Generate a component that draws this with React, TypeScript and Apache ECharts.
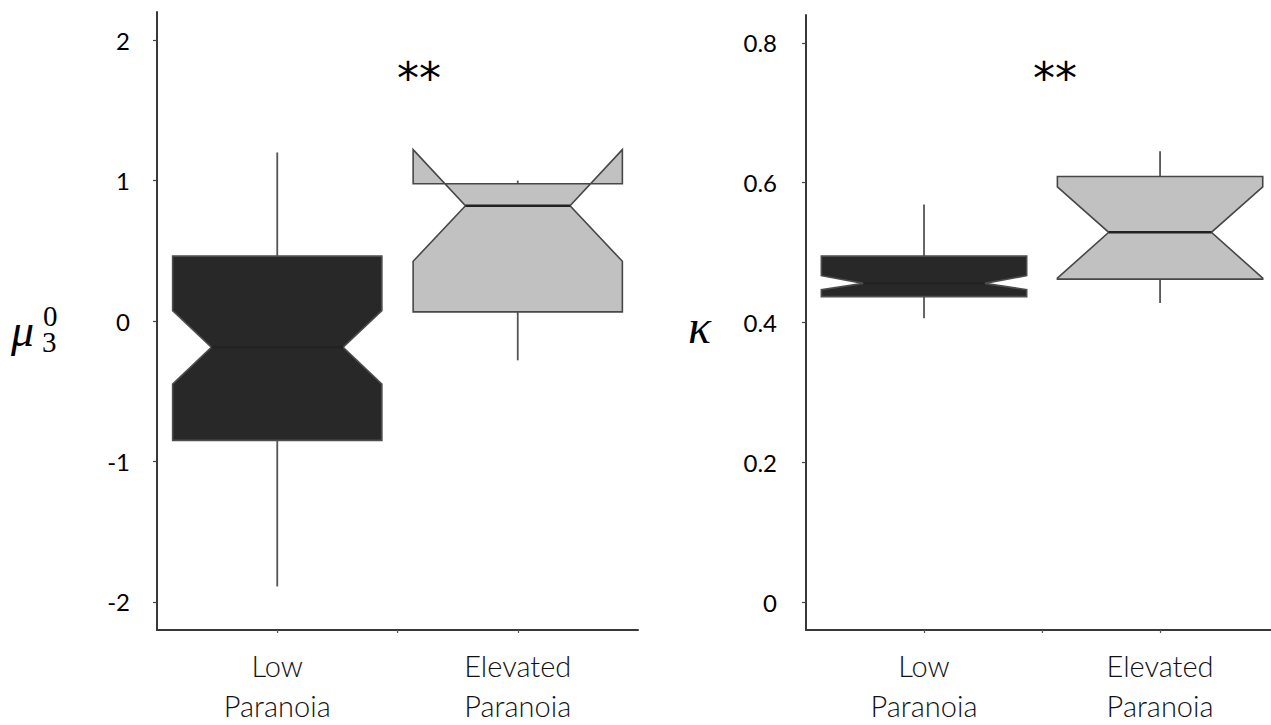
import React, { useEffect, useRef } from "react";
import * as echarts from "echarts";

// ---- data ----
const categories = ["Low\nParanoia", "Elevated\nParanoia"];
const groupPos = [1, 2];

// left panel: mu_3^0
const muMin = [-1.89, -0.28];
const muQ1 = [-0.85, 0.065];
const muNotchLow = [-0.45, 0.425];
const muMedian = [-0.187, 0.82];
const muNotchHigh = [0.074, 1.22];
const muQ3 = [0.462, 0.977];
const muMax = [1.2, 1.0];
const muTicks = [-2, -1, 0, 1, 2];

// right panel: kappa
const kappaMin = [0.406, 0.428];
const kappaQ1 = [0.437, 0.462];
const kappaNotchLow = [0.447, 0.4635];
const kappaMedian = [0.456, 0.529];
const kappaNotchHigh = [0.467, 0.594];
const kappaQ3 = [0.495, 0.609];
const kappaMax = [0.569, 0.645];
const kappaTicks = [0, 0.2, 0.4, 0.6, 0.8];

const significance = "**";

// ---- styles ----
const BOX_WIDTH = 0.87;
const boxFills = ["#282828", "#c1c1c1"];
const boxEdges = ["#4d4d4d", "#474747"];
const muNotchFrac = [0.63, 0.5];
const kappaNotchFrac = [0.59, 0.5];

function rows(mn: number[], q1: number[], nlo: number[], med: number[], nhi: number[], q3: number[], mx: number[]) {
  return groupPos.map((p, i) => [p, mn[i], q1[i], nlo[i], med[i], nhi[i], q3[i], mx[i]]);
}

function makeRender(notchFrac: number[]) {
  return (params: any, api: any) => {
    const idx = params.dataIndex;
    const x = api.value(0);
    const mn = api.value(1), q1 = api.value(2), nlo = api.value(3), med = api.value(4),
      nhi = api.value(5), q3 = api.value(6), mx = api.value(7);
    const cx = api.coord([x, med])[0];
    const y = (v: number) => api.coord([x, v])[1];
    const half = api.size([BOX_WIDTH, 0])[0] / 2;
    const L = cx - half, R = cx + half;
    const nh = half * notchFrac[idx];
    const whisker = { stroke: "#555", lineWidth: 1.8 };
    return {
      type: "group",
      children: [
        { type: "line", shape: { x1: cx, y1: y(q3), x2: cx, y2: y(mx) }, style: whisker },
        { type: "line", shape: { x1: cx, y1: y(q1), x2: cx, y2: y(mn) }, style: whisker },
        {
          type: "polygon",
          shape: {
            points: [
              [L, y(q1)], [L, y(nlo)], [cx - nh, y(med)], [L, y(nhi)], [L, y(q3)],
              [R, y(q3)], [R, y(nhi)], [cx + nh, y(med)], [R, y(nlo)], [R, y(q1)],
            ],
          },
          style: { fill: boxFills[idx], stroke: boxEdges[idx], lineWidth: 1.6, lineJoin: "miter" },
        },
        {
          type: "line",
          shape: { x1: cx - nh, y1: y(med), x2: cx + nh, y2: y(med) },
          style: { stroke: "#222", lineWidth: 2.5 },
        },
      ],
    };
  };
}

const axisLineStyle = { color: "#383838", width: 2 };
const tickFont = { fontFamily: "Lato", fontSize: 24, color: "#000" };

function xAxisCfg(gridIndex: number, max: number) {
  return {
    type: "value",
    gridIndex,
    min: 0.5,
    max,
    axisLine: { show: true, onZero: false, lineStyle: axisLineStyle },
    axisTick: { show: true, length: 3, lineStyle: { color: "#555", width: 1.2 }, customValues: [1, 1.5, 2] },
    axisLabel: {
      customValues: groupPos,
      formatter: (v: number) => categories[Math.round(v) - 1] ?? "",
      fontFamily: "Lato",
      fontWeight: 300,
      fontSize: 29,
      lineHeight: 40,
      color: "#111",
      margin: 15,
    },
    splitLine: { show: false },
  };
}

function yAxisCfg(gridIndex: number, min: number, max: number, ticks: number[], margin: number) {
  return {
    type: "value",
    gridIndex,
    min,
    max,
    axisLine: { show: true, onZero: false, lineStyle: axisLineStyle },
    axisTick: { show: true, length: 4, lineStyle: { color: "#444", width: 1.2 }, customValues: ticks },
    axisLabel: { customValues: ticks, margin, ...tickFont },
    splitLine: { show: false },
  };
}

const mathText = (text: string, x: number, y: number, size: number, italic: boolean, vAlign = "middle", lineHeight?: number) => ({
  type: "text",
  x,
  y,
  style: {
    text,
    fontFamily: "Liberation Serif",
    fontStyle: italic ? "italic" : "normal",
    fontSize: size,
    lineHeight: lineHeight ?? size,
    fill: "#000",
    align: "left",
    verticalAlign: vAlign,
  },
});

export default function App() {
  const ref = useRef<HTMLDivElement>(null);
  useEffect(() => {
    const chart = echarts.init(ref.current!, null, { renderer: "svg" });
    chart.setOption({
      animation: false,
      backgroundColor: "#fff",
      grid: [
        { left: 157, right: 633, top: 12, bottom: 89 },
        { left: 806, right: 0, top: 15, bottom: 86 },
      ],
      xAxis: [xAxisCfg(0, 2.5), xAxisCfg(1, 2.47)],
      yAxis: [yAxisCfg(0, -2.2, 2.2, muTicks, 27), yAxisCfg(1, -0.04, 0.84, kappaTicks, 29)],
      series: [
        {
          type: "custom",
          xAxisIndex: 0,
          yAxisIndex: 0,
          renderItem: makeRender(muNotchFrac),
          encode: { x: 0, y: [1, 2, 3, 4, 5, 6, 7] },
          data: rows(muMin, muQ1, muNotchLow, muMedian, muNotchHigh, muQ3, muMax),
        },
        {
          type: "custom",
          xAxisIndex: 1,
          yAxisIndex: 1,
          renderItem: makeRender(kappaNotchFrac),
          encode: { x: 0, y: [1, 2, 3, 4, 5, 6, 7] },
          data: rows(kappaMin, kappaQ1, kappaNotchLow, kappaMedian, kappaNotchHigh, kappaQ3, kappaMax),
        },
      ],
      graphic: [
        mathText("μ", 11, 330, 46, true),
        mathText("0", 43, 316, 29, false, "middle", 22),
        mathText("3", 42, 342, 29, false, "middle", 22),
        mathText("κ", 688, 326, 48, true),
        { type: "text", x: 419, y: 78, style: { text: significance, fontFamily: "DejaVu Sans", fontSize: 44, fill: "#000", align: "center", verticalAlign: "middle" } },
        { type: "text", x: 1055, y: 78, style: { text: significance, fontFamily: "DejaVu Sans", fontSize: 44, fill: "#000", align: "center", verticalAlign: "middle" } },
      ],
    });
    return () => chart.dispose();
  }, []);
  return <div ref={ref} style={{ position: "fixed", left: 0, top: 0, width: 1271, height: 725 }} />;
}
